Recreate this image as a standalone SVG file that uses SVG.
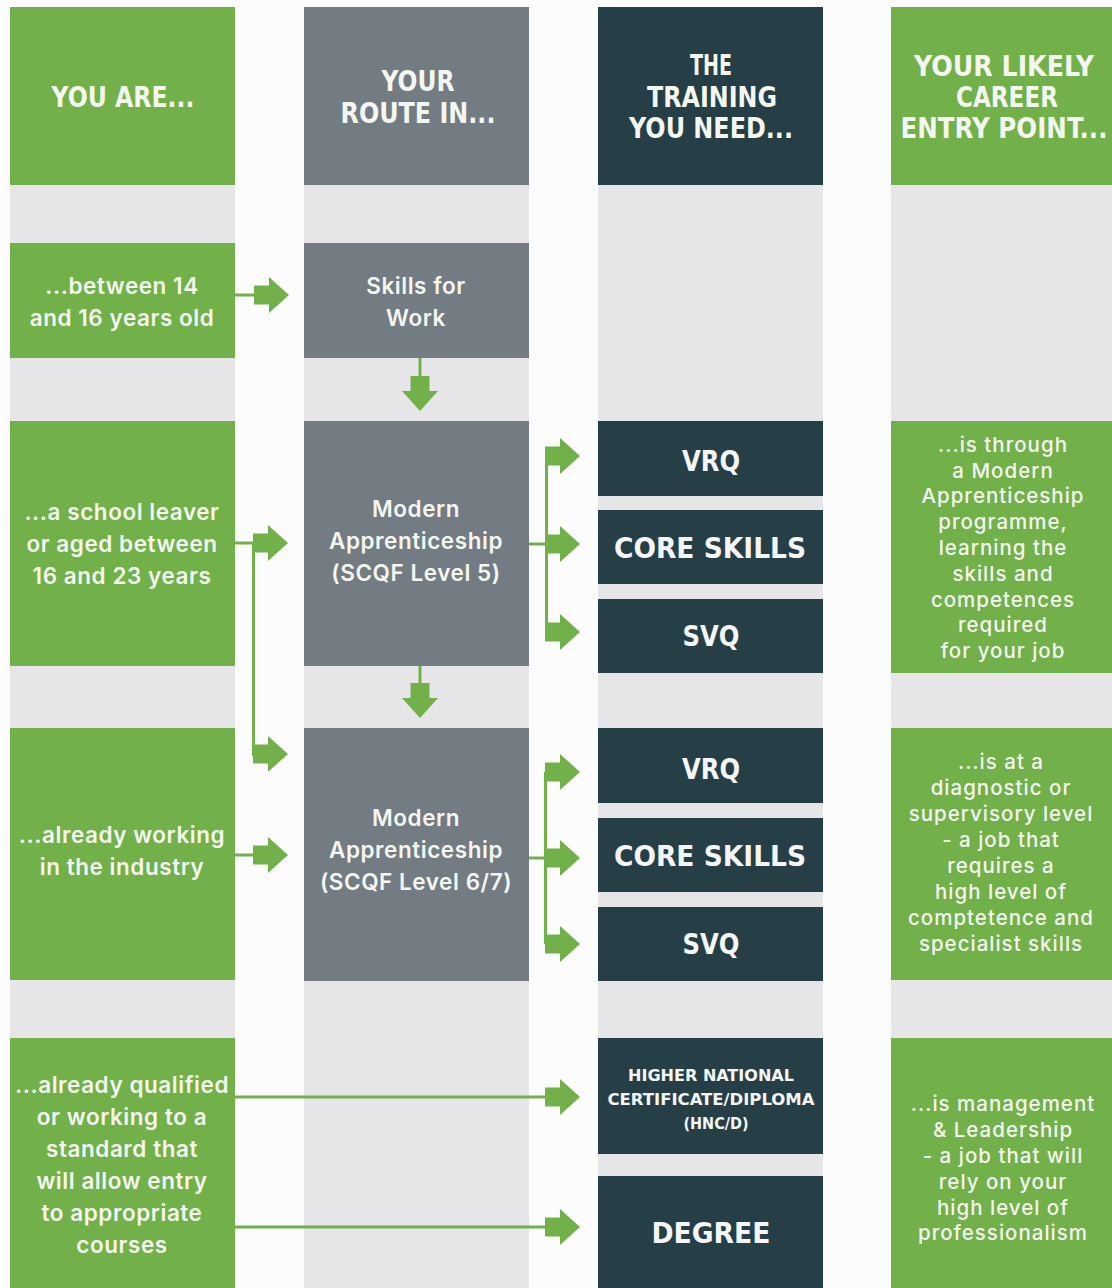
<svg xmlns="http://www.w3.org/2000/svg" xmlns:xlink="http://www.w3.org/1999/xlink" width="1112" height="1288" viewBox="0 0 1112 1288">
<style>
.green{fill:#72B04A}
.gray{fill:#737B83}
.dark{fill:#263F47}
.bg{fill:#E6E5E7}
.hd{font-family:"DejaVu Sans Condensed","Liberation Sans",sans-serif;font-weight:700;font-size:28px;fill:#F4F7EF;text-anchor:middle}
.q{font-family:"DejaVu Sans Condensed","Liberation Sans",sans-serif;font-weight:700;font-size:28px;fill:#F4F6F6;text-anchor:middle}
.qs{font-family:"DejaVu Sans Condensed","Liberation Sans",sans-serif;font-weight:700;font-size:16.5px;fill:#F4F6F6;text-anchor:middle}
.b{font-family:Inter,"Open Sans",sans-serif;font-weight:600;font-size:22.5px;letter-spacing:0.55px;fill:#F4F7F0;text-anchor:middle}
.l{font-family:Inter,"Open Sans",sans-serif;font-weight:500;font-size:20.5px;letter-spacing:1px;fill:#F4F7F0;text-anchor:middle}
.ln{stroke:#72B04A;stroke-width:3;fill:none}
</style>
<defs>
<path id="ar" d="M0,0 L-20,-18 L-20,-9.5 L-35,-9.5 L-35,9.5 L-20,9.5 L-20,18 Z" fill="#72B04A"/>
</defs>
<rect width="1112" height="1288" fill="#FCFCFC"/>
<g id="columns">
<rect class="bg" x="10" y="185" width="225" height="1103"/>
<rect class="bg" x="304" y="185" width="225" height="1103"/>
<rect class="bg" x="598" y="185" width="225" height="1103"/>
<rect class="bg" x="891" y="185" width="221" height="1103"/>
</g>
<g id="h1"><rect class="green" x="10" y="7" width="225" height="178"/><text class="hd" x="123" y="107" textLength="143" lengthAdjust="spacingAndGlyphs">YOU ARE...</text></g>
<g id="h2"><rect class="gray" x="304" y="7" width="225" height="178"/><text class="hd" x="418" y="91" textLength="73" lengthAdjust="spacingAndGlyphs">YOUR</text><text class="hd" x="418" y="123" textLength="155" lengthAdjust="spacingAndGlyphs">ROUTE IN...</text></g>
<g id="h3"><rect class="dark" x="598" y="7" width="225" height="178"/><text class="hd" x="711" y="75" textLength="42" lengthAdjust="spacingAndGlyphs">THE</text><text class="hd" x="712" y="107" textLength="130" lengthAdjust="spacingAndGlyphs">TRAINING</text><text class="hd" x="711" y="138" textLength="164" lengthAdjust="spacingAndGlyphs">YOU NEED...</text></g>
<g id="h4"><rect class="green" x="891" y="7" width="221" height="178"/><text class="hd" x="1004" y="76" textLength="180" lengthAdjust="spacingAndGlyphs">YOUR LIKELY</text><text class="hd" x="1007" y="107" textLength="102" lengthAdjust="spacingAndGlyphs">CAREER</text><text class="hd" x="1004" y="138" textLength="207" lengthAdjust="spacingAndGlyphs">ENTRY POINT...</text></g>

<g id="age14"><rect class="green" x="10" y="243" width="225" height="115"/><text class="b" x="122" y="294">...between 14</text><text class="b" x="122" y="326">and 16 years old</text></g>
<g id="skills"><rect class="gray" x="304" y="243" width="225" height="115"/><text class="b" x="416" y="294">Skills for</text><text class="b" x="416" y="326">Work</text></g>

<g id="leaver"><rect class="green" x="10" y="421" width="225" height="245"/><text class="b" x="122" y="520">...a school leaver</text><text class="b" x="122" y="552">or aged between</text><text class="b" x="122" y="584">16 and 23 years</text></g>
<g id="ma5"><rect class="gray" x="304" y="421" width="225" height="245"/><text class="b" x="416" y="517">Modern</text><text class="b" x="416" y="549">Apprenticeship</text><text class="b" x="416" y="581">(SCQF Level 5)</text></g>
<g id="vrq1"><rect class="dark" x="598" y="421" width="225" height="75"/><text class="q" x="711" y="471" textLength="58" lengthAdjust="spacingAndGlyphs">VRQ</text></g>
<g id="core1"><rect class="dark" x="598" y="510" width="225" height="74"/><text class="q" x="710" y="558" textLength="192" lengthAdjust="spacingAndGlyphs">CORE SKILLS</text></g>
<g id="svq1"><rect class="dark" x="598" y="599" width="225" height="74"/><text class="q" x="711" y="646" textLength="57" lengthAdjust="spacingAndGlyphs">SVQ</text></g>
<g id="entry1"><rect class="green" x="891" y="421" width="221" height="252"/>
<text class="l" x="1003" y="452">...is through</text><text class="l" x="1003" y="477.5">a Modern</text><text class="l" x="1003" y="503.3">Apprenticeship</text><text class="l" x="1003" y="529">programme,</text><text class="l" x="1003" y="555">learning the</text><text class="l" x="1003" y="580.7">skills and</text><text class="l" x="1003" y="606.5">competences</text><text class="l" x="1003" y="632.3">required</text><text class="l" x="1003" y="658">for your job</text></g>

<g id="working"><rect class="green" x="10" y="728" width="225" height="252"/><text class="b" x="122" y="843">...already working</text><text class="b" x="122" y="875">in the industry</text></g>
<g id="ma67"><rect class="gray" x="304" y="728" width="225" height="253"/><text class="b" x="416" y="826">Modern</text><text class="b" x="416" y="858">Apprenticeship</text><text class="b" x="416" y="890">(SCQF Level 6/7)</text></g>
<g id="vrq2"><rect class="dark" x="598" y="728" width="225" height="75"/><text class="q" x="711" y="779" textLength="58" lengthAdjust="spacingAndGlyphs">VRQ</text></g>
<g id="core2"><rect class="dark" x="598" y="818" width="225" height="74"/><text class="q" x="710" y="866" textLength="192" lengthAdjust="spacingAndGlyphs">CORE SKILLS</text></g>
<g id="svq2"><rect class="dark" x="598" y="907" width="225" height="74"/><text class="q" x="711" y="954" textLength="57" lengthAdjust="spacingAndGlyphs">SVQ</text></g>
<g id="entry2"><rect class="green" x="891" y="728" width="221" height="252"/>
<text class="l" x="1001" y="769">...is at a</text><text class="l" x="1001" y="795">diagnostic or</text><text class="l" x="1001" y="821">supervisory level</text><text class="l" x="1001" y="847">- a job that</text><text class="l" x="1001" y="873">requires a</text><text class="l" x="1001" y="899">high level of</text><text class="l" x="1001" y="925">comptetence and</text><text class="l" x="1001" y="951">specialist skills</text></g>

<g id="qualified"><rect class="green" x="10" y="1038" width="225" height="250"/><text class="b" x="122" y="1093">...already qualified</text><text class="b" x="122" y="1125">or working to a</text><text class="b" x="122" y="1157">standard that</text><text class="b" x="122" y="1189">will allow entry</text><text class="b" x="122" y="1221">to appropriate</text><text class="b" x="122" y="1253">courses</text></g>
<g id="hnc"><rect class="dark" x="598" y="1038" width="225" height="116"/><text class="qs" x="711" y="1081" textLength="166" lengthAdjust="spacingAndGlyphs">HIGHER NATIONAL</text><text class="qs" x="711" y="1105" textLength="207" lengthAdjust="spacingAndGlyphs">CERTIFICATE/DIPLOMA</text><text class="qs" x="716" y="1129" textLength="65" lengthAdjust="spacingAndGlyphs">(HNC/D)</text></g>
<g id="degree"><rect class="dark" x="598" y="1176" width="225" height="112"/><text class="q" x="711" y="1243" textLength="119" lengthAdjust="spacingAndGlyphs">DEGREE</text></g>
<g id="entry3"><rect class="green" x="891" y="1038" width="221" height="250"/>
<text class="l" x="1003" y="1111">...is management</text><text class="l" x="1003" y="1137">&amp; Leadership</text><text class="l" x="1003" y="1163">- a job that will</text><text class="l" x="1003" y="1189">rely on your</text><text class="l" x="1003" y="1215">high level of</text><text class="l" x="1003" y="1240">professionalism</text></g>

<g id="connectors">
<path class="ln" d="M235,295 H256"/>
<use xlink:href="#ar" transform="translate(289,295)"/>
<path class="ln" d="M420,358 V380"/>
<use xlink:href="#ar" transform="translate(420,411) rotate(90)"/>
<path class="ln" d="M235,543 H253.5 M253.5,543 V756"/>
<use xlink:href="#ar" transform="translate(288,543)"/>
<use xlink:href="#ar" transform="translate(288,754)"/>
<path class="ln" d="M529,544 H547 M546.5,456 V632"/>
<use xlink:href="#ar" transform="translate(580,456)"/>
<use xlink:href="#ar" transform="translate(580,544)"/>
<use xlink:href="#ar" transform="translate(580,632)"/>
<path class="ln" d="M420,666 V686"/>
<use xlink:href="#ar" transform="translate(420,718) rotate(90)"/>
<path class="ln" d="M235,855 H256"/>
<use xlink:href="#ar" transform="translate(288,855)"/>
<path class="ln" d="M529,858 H547 M545.5,772 V944"/>
<use xlink:href="#ar" transform="translate(580,772)"/>
<use xlink:href="#ar" transform="translate(580,858)"/>
<use xlink:href="#ar" transform="translate(580,944)"/>
<path class="ln" d="M235,1097 H548"/>
<use xlink:href="#ar" transform="translate(580,1097)"/>
<path class="ln" d="M235,1227 H548"/>
<use xlink:href="#ar" transform="translate(580,1227)"/>
</g>
</svg>
